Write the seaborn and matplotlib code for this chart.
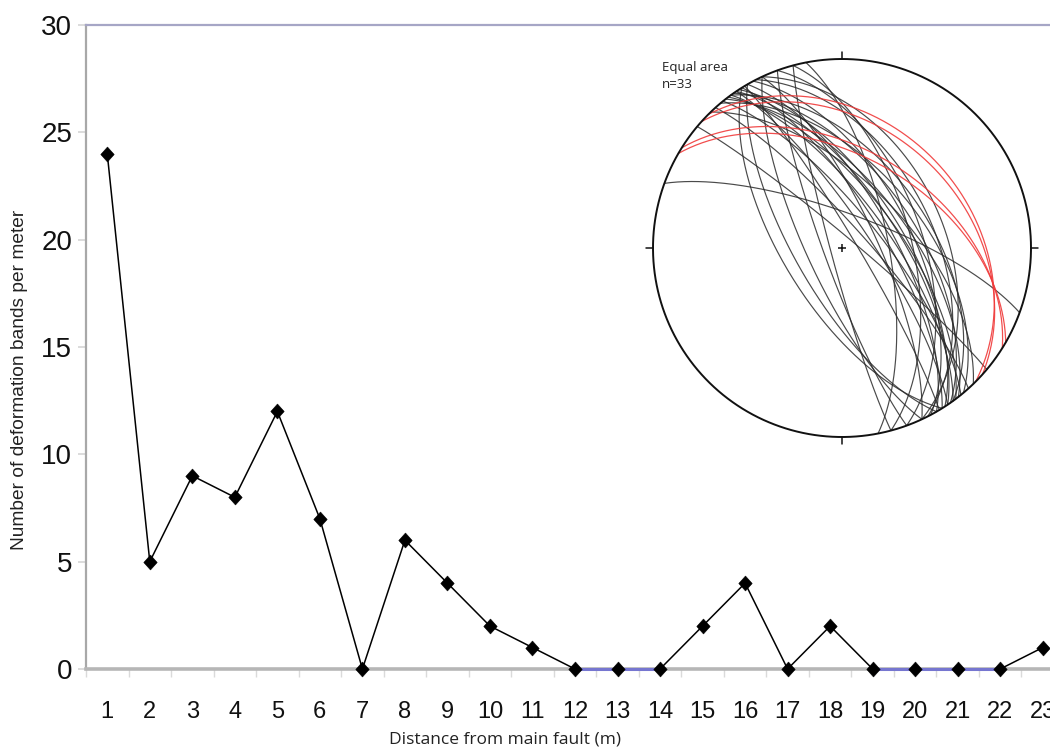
import numpy as np
import pandas as pd
import seaborn as sns
import matplotlib.pyplot as plt
from matplotlib.path import Path
from matplotlib.markers import MarkerStyle

# ---- data -------------------------------------------------------------
distance_m = list(range(1, 24))
band_counts = [24, 5, 9, 8, 12, 7, 0, 6, 4, 2, 1, 0, 0, 0, 2, 4, 0, 2, 0, 0, 0, 0, 1]
y_ticks = [0, 5, 10, 15, 20, 25, 30]

# deformation-band planes (strike, right-hand rule / dip), degrees
black_strike = [322, 323, 324, 325, 321, 326, 320, 327, 328, 330, 332, 318, 324, 335, 329, 326,
                150, 155, 160, 165, 148,
                290, 316, 345, 340, 349, 310, 335, 333]
black_dip = [62, 66, 70, 58, 74, 78, 55, 64, 72, 68, 60, 80, 52, 75, 84, 66,
             70, 75, 82, 85, 65,
             75, 62, 60, 55, 70, 85, 45, 50]
red_strike = [315, 312, 300, 302]
red_dip = [33, 36, 50, 47]

sns.set_theme(style="white")
plt.rcParams['font.family'] = ['Liberation Sans', 'DejaVu Sans']

W, H = 1050, 747
fig = plt.figure(figsize=(W / 100, H / 100), dpi=100)
fig.patch.set_facecolor('white')

# main axes (extends slightly past the right edge of the canvas)
ax = fig.add_axes([86 / W, 1 - 669 / H, 978 / W, 644 / H])
ax.set_facecolor('white')

pos = np.arange(len(distance_m))
df = pd.DataFrame({'pos': pos, 'bands': band_counts})

sns.lineplot(data=df, x='pos', y='bands', color='black', linewidth=1.1, ax=ax, zorder=3)

# segments lying on the zero line
vals = np.array(band_counts)
for i in range(len(vals) - 1):
    if vals[i] == 0 and vals[i + 1] == 0:
        ax.plot(pos[i:i + 2], vals[i:i + 2], color='#7676d0', linewidth=2.2, zorder=3.5,
                solid_capstyle='butt', clip_on=False)

diamond = MarkerStyle(Path([(0, 1), (0.9, 0), (0, -1), (-0.9, 0), (0, 1)],
                           [Path.MOVETO, Path.LINETO, Path.LINETO, Path.LINETO, Path.CLOSEPOLY]))
sns.scatterplot(data=df, x='pos', y='bands', marker=diamond, s=115, color='black',
                edgecolor='black', linewidth=0.4, ax=ax, zorder=4, clip_on=False)

ax.set_xlim(-0.5, len(distance_m) - 0.5)
ax.set_ylim(0, 30)
ax.set_yticks(y_ticks)
ax.set_yticklabels([str(v) for v in y_ticks])
ax.set_xticks(pos)
ax.set_xticklabels([str(d) for d in distance_m])
ax.set_xticks(np.arange(-0.5, len(distance_m)), minor=True)
ax.set_xlabel('')
ax.set_ylabel('')

ax.tick_params(axis='y', which='major', left=True, length=6, width=1.2, color='#d6d6d6',
               labelsize=20, pad=4, labelcolor='#111111')
ax.tick_params(axis='x', which='major', bottom=True, length=0, labelsize=17, pad=23,
               labelcolor='#111111')
ax.tick_params(axis='x', which='minor', bottom=True, length=6, width=1.0, color='#dadada')

for side in ['left', 'top', 'bottom', 'right']:
    ax.spines[side].set_visible(True)
ax.spines['left'].set_color('#a8a8a8')
ax.spines['left'].set_linewidth(1.6)
ax.spines['top'].set_color('#a6a6c6')
ax.spines['top'].set_linewidth(1.6)
ax.spines['bottom'].set_color('#b6b6b6')
ax.spines['bottom'].set_linewidth(2.6)
ax.spines['right'].set_visible(False)
ax.grid(False)

fig.text(20 / W, 1 - 380 / H, 'Number of deformation bands per meter', rotation=90,
         ha='center', va='center', fontsize=13.8, color='#222222')
fig.text(505 / W, 1 - 740 / H, 'Distance from main fault (m)', ha='center', va='center',
         fontsize=12.5, family=['Open Sans', 'DejaVu Sans'], color='#222222')

# ---- equal-area (lower hemisphere) stereonet inset ----------------------
cx, cy, R = 842, 248, 189
half = 200
sax = fig.add_axes([(cx - half) / W, 1 - (cy + half) / H, 2 * half / W, 2 * half / H])
sax.set_xlim(-half / R, half / R)
sax.set_ylim(-half / R, half / R)
sax.axis('off')
sax.patch.set_alpha(0)


def great_circle(strike, dip, n=200):
    s = np.radians(strike)
    d = np.radians(dip)
    t = np.linspace(0, np.pi, n)
    strike_v = np.array([np.sin(s), np.cos(s), 0.0])
    dip_v = np.array([np.cos(d) * np.sin(s + np.pi / 2), np.cos(d) * np.cos(s + np.pi / 2), np.sin(d)])
    v = np.outer(np.cos(t), strike_v) + np.outer(np.sin(t), dip_v)  # east, north, down
    k = np.sqrt(1.0 / (1.0 + v[:, 2]))
    return v[:, 0] * k, v[:, 1] * k


for st, dp in zip(black_strike, black_dip):
    x, y = great_circle(st, dp)
    sax.plot(x, y, color='#2a2a2a', linewidth=0.85, alpha=0.85)
for st, dp in zip(red_strike, red_dip):
    x, y = great_circle(st, dp)
    sax.plot(x, y, color='#f03a3a', linewidth=0.9, alpha=0.9)

th = np.linspace(0, 2 * np.pi, 400)
sax.plot(np.cos(th), np.sin(th), color='#111111', linewidth=1.4)
for a in [0, 90, 180, 270]:
    ar = np.radians(a)
    sax.plot([np.sin(ar), 1.035 * np.sin(ar)], [np.cos(ar), 1.035 * np.cos(ar)],
             color='#111111', linewidth=1.1)
sax.plot([0], [0], marker='+', markersize=6, color='#111111', markeredgewidth=1.1)

fig.text(662 / W, 1 - 61 / H, 'Equal area\nn=33', ha='left', va='top', fontsize=9.5,
         family=['Open Sans', 'DejaVu Sans'], color='#222222', linespacing=1.35)

fig.savefig('out.png', dpi=100, facecolor='white')
